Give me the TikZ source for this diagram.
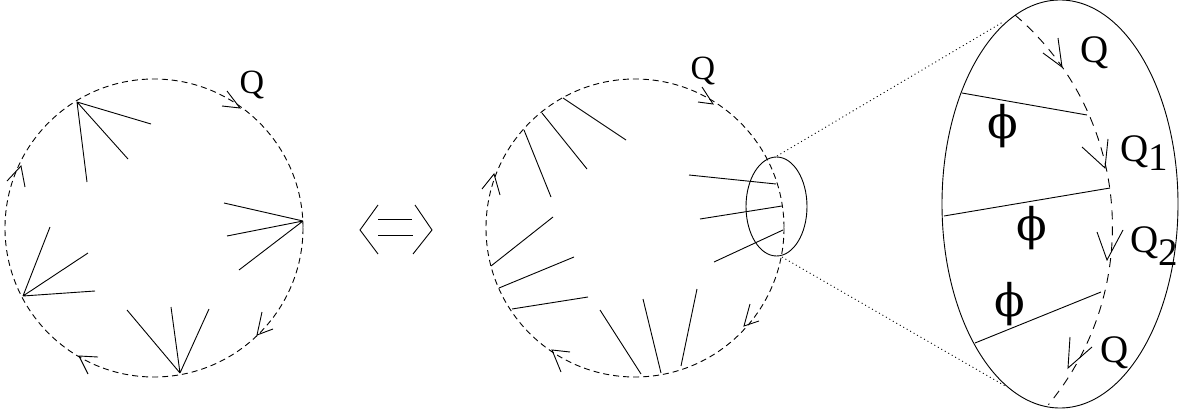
\documentclass[tikz,border=0pt]{standalone}
\usepackage{fontspec}
\setmainfont{Liberation Serif}
\newfontfamily\phifont{DejaVu Serif}
\begin{document}
\begin{tikzpicture}[x=1pt,y=-1pt,
  thin line/.style={line width=0.9pt},
  dashc/.style={line width=0.9pt, dash pattern=on 6pt off 4pt},
  dashb/.style={line width=0.9pt, dash pattern=on 9pt off 7pt},
  dotl/.style={line width=0.9pt, dash pattern=on 1pt off 3pt},
  vee/.style={line width=0.9pt, line join=miter},
  lab/.style={inner sep=0pt, font=\fontsize{34}{36}\selectfont},
  blab/.style={inner sep=0pt, font=\fontsize{39}{40}\selectfont},
  phlab/.style={inner sep=0pt, font=\phifont\fontsize{45}{47}\selectfont},
]
\useasboundingbox (0,0) rectangle (1183,412);

% ---------- left circle ----------
\coordinate (L) at (154,228);
\draw[dashc] (L) circle[radius=149];
\coordinate (a1) at (77,102);
\coordinate (a2) at (303,221);
\coordinate (a3) at (23,296);
\coordinate (a4) at (180,373);
\draw[thin line] (a1) -- (151,124) (a1) -- (128,159) (a1) -- (87,182);
\draw[thin line] (a2) -- (224,203) (a2) -- (227,236) (a2) -- (239,270);
\draw[thin line] (a3) -- (50,227) (a3) -- (88,253) (a3) -- (95,291);
\draw[thin line] (a4) -- (127,310) (a4) -- (171,307) (a4) -- (209,309);
\draw[vee] (227,91) -- (240,108) -- (222,106);
\draw[vee] (7,181) -- (21,166) -- (25,187);
\draw[vee] (262,312) -- (257,335) -- (273,329);
\draw[vee] (98,357) -- (79,356) -- (88,374);
\node[lab, anchor=base] (qL) at (252,93) {Q};

% ---------- equivalence sign ----------
\draw[vee] (378,205) -- (360,230) -- (378,254);
\draw[vee] (415,205) -- (432,230) -- (413,254);
\draw[thin line] (378,219) -- (412,219) (378,235) -- (413,235);

% ---------- middle circle ----------
\coordinate (M) at (635,228);
\draw[dashc] (M) circle[radius=149];
\draw[thin line] (563,98) -- (626,140);
\draw[thin line] (542,113) -- (587,169);
\draw[thin line] (524,130) -- (551,197);
\draw[thin line] (491,266) -- (553,217);
\draw[thin line] (499,288) -- (574,257);
\draw[thin line] (512,309) -- (588,297);
\draw[thin line] (600,310) -- (641,374);
\draw[thin line] (643,299) -- (661,373);
\draw[thin line] (697,289) -- (681,366);
\draw[thin line] (689,175) -- (776,184);
\draw[thin line] (700,219) -- (782,206);
\draw[thin line] (714,262) -- (783,230);
\draw[vee] (702,87) -- (713,104) -- (698,102);
\draw[vee] (482,189) -- (494,174) -- (500,195);
\draw[vee] (750,304) -- (744,326) -- (759,321);
\draw[vee] (570,352) -- (552,350) -- (561,372);
\node[lab, anchor=base] (qM) at (703,79) {Q};

% ---------- magnifier ----------
\draw[thin line] (776.5,206.5) ellipse[x radius=30.5, y radius=49.5];
\draw[dotl] (777,156) -- (1003,22);
\draw[dotl] (782,257) -- (1007,387);
\draw[thin line] (1060,204) ellipse[x radius=118, y radius=204];
\draw[dashb] (1015,15) arc[start angle=-49.4, end angle=39.6, radius=279];
\draw[vee] (1043,53) -- (1062,67) -- (1058,38);
\draw[vee] (1082,147) -- (1105,168) -- (1108,139);
\draw[vee] (1097,232) -- (1107,260) -- (1123,230);
\draw[vee] (1070,337) -- (1068,368) -- (1092,347);
\draw[thin line] (962,93) -- (1087,115);
\draw[thin line] (944,216) -- (1110,188);
\draw[thin line] (975,343) -- (1101,292);
\node[blab, anchor=base] (qR1) at (1095,63) {Q};
\node[blab, anchor=base west] (qR2) at (1120,161) {Q\raisebox{-9pt}{1}};
\node[blab, anchor=base west] (qR3) at (1130,252) {Q\raisebox{-13pt}{2}};
\node[blab, anchor=base] (qR4) at (1115,362) {Q};
\node[phlab] (p1) at (1003,126) {ϕ};
\node[phlab] (p2) at (1032,228) {ϕ};
\node[phlab] (p3) at (1010,304) {ϕ};
\end{tikzpicture}
\end{document}
